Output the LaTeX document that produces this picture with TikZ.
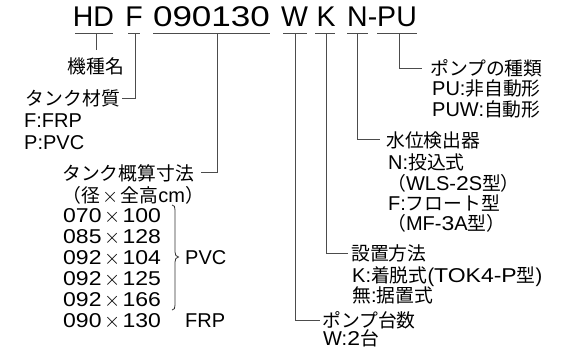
\documentclass[tikz,border=0pt]{standalone}
\usepackage{fontspec}
\usepackage{graphicx}
\setmainfont{Liberation Sans}
\newfontfamily\jp[Scale=0.94]{Noto Sans CJK JP}
\newfontfamily\numfont[FakeStretch=1.15]{Liberation Sans}
\newfontfamily\titlenum[FakeStretch=1.23]{Liberation Sans}
\newcommand\bigtimes{\makebox[21pt]{\fontsize{21}{21}\selectfont$\times$}}
\begin{document}
\begin{tikzpicture}[x=1pt,y=-1pt,
  lbl/.style={inner sep=0pt, anchor=base west, font=\fontsize{20}{22}\selectfont},
  ttl/.style={inner sep=0pt, anchor=base, font=\fontsize{28.5}{30}\selectfont},
  conn/.style={draw=black!70, line width=0.9pt},
  uline/.style={draw=black!70, line width=0.9pt},
  bracestyle/.style={draw=black!80, line width=0.8pt}]
\useasboundingbox[fill=white] (0,0) rectangle (567,356);
% title
\node[ttl] (hd)  at (93.5,27)  {HD};
\node[ttl] (f)   at (134,27)   {F};
\node[ttl] (num) at (211.5,27) {\titlenum 090130};
\node[ttl] (w)   at (294.5,27) {W};
\node[ttl] (k)   at (326,27)   {K};
\node[ttl] (npu) at (382,27)   {N-PU};
% underlines
\draw[uline] (75,33) -- (113,33);
\draw[uline] (128,33) -- (140,33);
\draw[uline] (153,33) -- (270,33);
\draw[uline] (283,33) -- (307,33);
\draw[uline] (315,33) -- (335,33);
\draw[uline] (347,33) -- (368,33);
\draw[uline] (377,33) -- (417,33);
% connector coordinates
\coordinate (hdU) at (96,33);   \coordinate (hdE) at (96,50);
\coordinate (fU) at (135,33);   \coordinate (fE) at (122,98);
\coordinate (numU) at (217,33); \coordinate (numE) at (201,172);
\coordinate (wU) at (295,33);   \coordinate (wE) at (320,320);
\coordinate (kU) at (326,33);   \coordinate (kE) at (348,253);
\coordinate (nU) at (357,33);   \coordinate (nE) at (380,139);
\coordinate (puU) at (399,33);  \coordinate (puE) at (422,68);
\draw[conn] (hdU) -- (hdE);
\draw[conn] (fU) |- (fE);
\draw[conn] (numU) |- (numE);
\draw[conn] (wU) |- (wE);
\draw[conn] (kU) |- (kE);
\draw[conn] (nU) |- (nE);
\draw[conn] (puU) |- (puE);
% left labels
\node[lbl, anchor=base] (kishu) at (96,73) {\jp 機種名};
\node[lbl, anchor=base east] (zai) at (120,105) {\jp タンク材質};
\node[lbl] (zaiF) at (24,127) {F:FRP};
\node[lbl] (zaiP) at (24,149) {P:PVC};
\node[lbl] (sun)  at (62,180) {\jp タンク概算寸法};
\node[lbl] (sun2) at (62,202) {{\jp （径}\bigtimes{\jp 全高}cm{\jp ）}};
\node[lbl] (s1) at (63,222) {\numfont 070\bigtimes 100};
\node[lbl] (s2) at (63,243) {\numfont 085\bigtimes 128};
\node[lbl] (s3) at (63,264) {\numfont 092\bigtimes 104};
\node[lbl] (s4) at (63,285) {\numfont 092\bigtimes 125};
\node[lbl] (s5) at (63,306) {\numfont 092\bigtimes 166};
\node[lbl] (s6) at (63,327) {\numfont 090\bigtimes 130};
\node[lbl] (pvc) at (185,264) {PVC};
\node[lbl] (frp) at (185,327) {FRP};
% brace
\coordinate (brT) at (172,205);
\coordinate (brB) at (172,310);
\coordinate (brM) at (178.5,257);
\draw[bracestyle] (brT) .. controls (174.5,205) and (175,207) .. (175,210)
  -- (175,252) .. controls (175,255) and (176,256.5) .. (brM)
  .. controls (176,257.5) and (175,259) .. (175,262)
  -- (175,305) .. controls (175,308) and (174.5,310) .. (brB);
% right labels
\node[lbl] (pshu) at (430,75)  {\jp ポンプの種類};
\node[lbl] (pu1)  at (432,95)  {PU:{\jp 非自動形}};
\node[lbl] (pu2)  at (432,116) {PUW:{\jp 自動形}};
\node[lbl] (sui)  at (386,147) {\jp 水位検出器};
\node[lbl] (n1)   at (388,169) {N:{\jp 投込式}};
\node[lbl] (n2)   at (387,190) {{\jp （}WLS-{\numfont 2}S{\jp 型）}};
\node[lbl] (n3)   at (388,210) {F:{\jp フロート型}};
\node[lbl] (n4)   at (387,230) {{\jp （}MF-{\numfont 3}A{\jp 型）}};
\node[lbl] (set)  at (351,260) {\jp 設置方法};
\node[lbl] (k1)   at (352,282) {K:{\jp 着脱式}({\numfont TOK4-P}{\jp 型})};
\node[lbl] (k2)   at (352,302) {{\jp 無}:{\jp 据置式}};
\node[lbl] (pdai) at (322,327) {\jp ポンプ台数};
\node[lbl] (w1)   at (323,345) {W:{\numfont 2}{\jp 台}};
\end{tikzpicture}
\end{document}
